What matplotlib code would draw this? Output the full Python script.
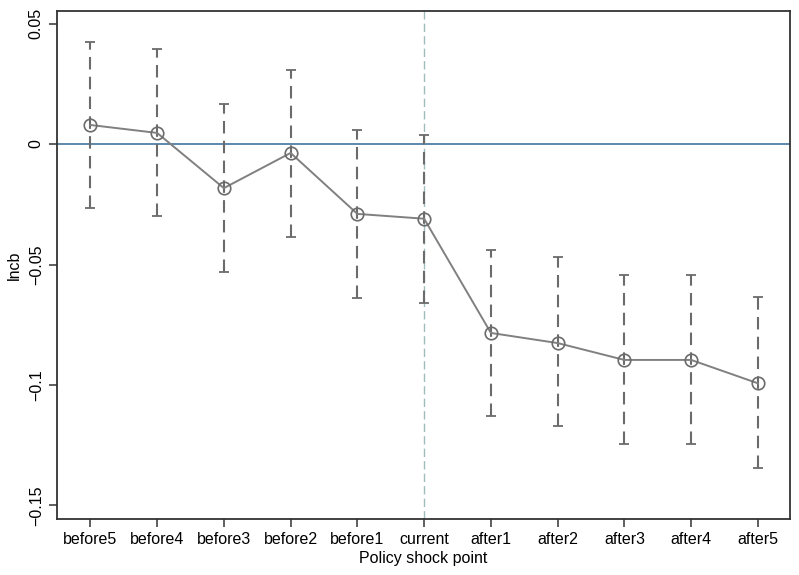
import matplotlib.pyplot as plt

# event-study estimates
periods = ["before5", "before4", "before3", "before2", "before1", "current",
           "after1", "after2", "after3", "after4", "after5"]
coef = [0.0079, 0.0046, -0.0183, -0.0037, -0.0290, -0.0310,
        -0.0784, -0.0826, -0.0896, -0.0896, -0.0993]
ci_low = [-0.0266, -0.0300, -0.0530, -0.0386, -0.0640, -0.0660,
          -0.1130, -0.1170, -0.1245, -0.1245, -0.1345]
ci_high = [0.0423, 0.0394, 0.0166, 0.0307, 0.0058, 0.0037,
           -0.0440, -0.0470, -0.0544, -0.0544, -0.0635]
yticks = [0.05, 0, -0.05, -0.1, -0.15]
ytick_labels = ["0.05", "0", "\u22120.05", "\u22120.1", "\u22120.15"]

plt.rcParams['font.family'] = ['Liberation Sans', 'DejaVu Sans']

fig = plt.figure(figsize=(7.99, 5.75), dpi=100)
ax = fig.add_axes([0.0713, 0.0974, 0.9174, 0.8835])

x = list(range(len(periods)))

ax.axhline(0, color="#4f7fa6", lw=1.3, zorder=1)
ax.axvline(periods.index("current"), color="#9fbcbc", lw=1.0,
           ls=(0, (6, 3)), zorder=1)

yerr = [[c - lo for c, lo in zip(coef, ci_low)],
        [hi - c for c, hi in zip(coef, ci_high)]]
eb = ax.errorbar(x, coef, yerr=yerr, fmt="none", ecolor="#6b6b6b",
                 elinewidth=1.5, capsize=3.8, capthick=1.3, zorder=2)
for lc in eb[2]:
    lc.set_linestyle((0, (6, 3.5)))

ax.plot(x, coef, color="#808080", lw=1.4, marker="o", markersize=9,
        markerfacecolor="none", markeredgecolor="#6b6b6b",
        markeredgewidth=1.2, zorder=3)

ax.set_xlim(-0.5, 10.48)
ax.set_ylim(-0.1556, 0.0552)
ax.set_xticks(x)
ax.set_xticklabels(periods, fontsize=11.5)
ax.set_yticks(yticks)
ax.set_yticklabels(ytick_labels, fontsize=11.5, rotation=90, va="center")
ax.tick_params(direction="out", length=6, width=1.1, color="#333333")

for s in ax.spines.values():
    s.set_linewidth(1.3)
    s.set_color("#333333")

ax.set_xlabel("Policy shock point", fontsize=11.5, labelpad=3)
ax.set_ylabel("lncb", fontsize=11.5, va="center")
ax.yaxis.set_label_coords(-0.058, 0.5)

fig.savefig("out.png", dpi=100)
